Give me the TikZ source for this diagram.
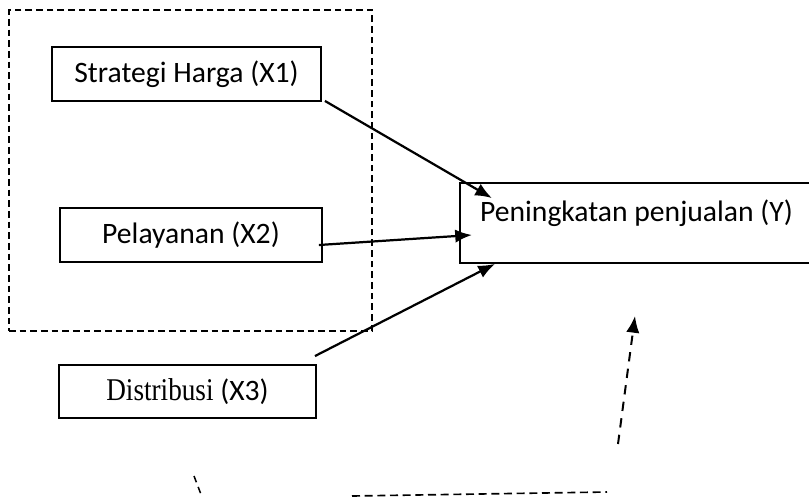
\documentclass[tikz,border=0pt]{standalone}
\usepackage{fontspec}
\setmainfont{Carlito}
\newfontfamily\distfont[FakeStretch=0.86]{Liberation Serif}
\usepackage{tikz}
\usetikzlibrary{arrows.meta, positioning, calc}
\tikzstyle{varbox} = [rectangle, draw=black, line width=1.6pt, text centered, minimum height=1.62cm, inner sep=0pt, font=\fontsize{25.3}{30}\selectfont]
\tikzstyle{groupbox} = [rectangle, draw=black, line width=1.4pt, dash pattern=on 0.2cm off 0.12cm]
\tikzstyle{arrow} = [line width=1.9pt, -{Latex[length=0.5cm,width=0.4cm]}]
\tikzstyle{feedback} = [line width=1.7pt, dash pattern=on 0.28cm off 0.22cm]

\begin{document}
\begin{tikzpicture}[x=0.03cm, y=-0.03cm]
\useasboundingbox (0,0) rectangle (809,497);
% Grouping of X1 and X2
\node (grp) [groupbox, minimum width=10.89cm, minimum height=9.63cm] at (190.5,170.5) {};
% Variables
\node (x1) [varbox, minimum width=8.07cm] at (186.5,74) {Strategi Harga (X1)};
\node (x2) [varbox, minimum width=7.86cm] at (191,235) {Pelayanan (X2)};
\node (x3) [varbox, minimum width=7.71cm, minimum height=1.59cm] at (187.5,391.5) {{\distfont\fontsize{27}{30}\selectfont Distribusi} (X3)};
\node (y) [varbox, minimum width=10.6cm, minimum height=2.4cm, text height=0.62cm, text depth=0.72cm] at (636.5,223) {Peningkatan penjualan (Y)};

% Arrow ends
\coordinate (y1) at ($(y.north west)+(33,16)$);
\coordinate (y2) at ($(y.west)+(13,12)$);
\coordinate (y3) at ($(y.south west)+(36,0)$);
\coordinate (f1) at (618,444);
\coordinate (f2) at (635,316);
\coordinate (f3) at (194,476);
\coordinate (f4) at (202,497);
\coordinate (f5) at (352,496);
\coordinate (f6) at (607,492);

% Relationships
\draw [arrow] ($(x1.south east)+(3,-1)$) -- (y1);
\draw [arrow] ($(x2.east)+(-4,10)$) -- (y2);
\draw [arrow] ($(x3.north east)+(-2,-8)$) -- (y3);
\draw [arrow, feedback] (f1) -- (f2);
\draw [feedback, line width=1.3pt, dash pattern=on 0.2cm off 0.15cm] (f3) -- (f4);
\draw [feedback, line width=1.4pt, dash pattern=on 0.24cm off 0.14cm] (f5) -- (f6);
\end{tikzpicture}
\end{document}
